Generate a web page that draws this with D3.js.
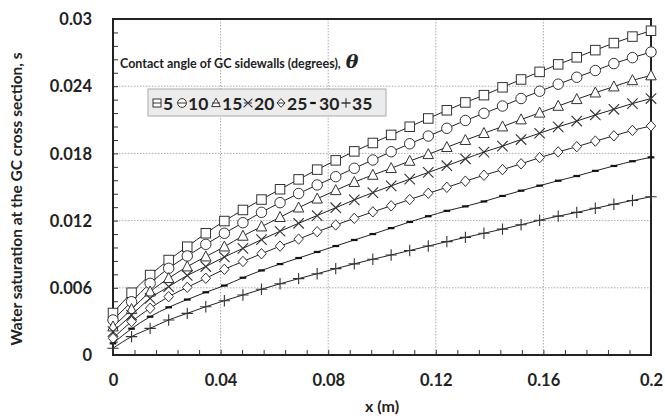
<!DOCTYPE html>
<html><head><meta charset="utf-8">
<script src="https://cdn.jsdelivr.net/npm/d3@7"></script>
<style>body{margin:0;background:#fff}svg{display:block}text{font-family:Lato,"Open Sans",sans-serif;font-weight:bold;fill:#222}</style>
</head><body><svg id="c" width="665" height="418"></svg>
<script>
const xValues = [0, 0.0069, 0.0138, 0.0207, 0.0276, 0.0345, 0.0414, 0.0483, 0.0552, 0.0621, 0.069, 0.0759, 0.0828, 0.0897, 0.0966, 0.1034, 0.1103, 0.1172, 0.1241, 0.131, 0.1379, 0.1448, 0.1517, 0.1586, 0.1655, 0.1724, 0.1793, 0.1862, 0.1931, 0.2];
const theta5  = [0.00375, 0.00556, 0.00714, 0.00848, 0.00967, 0.01087, 0.01196, 0.01295, 0.01388, 0.0148, 0.01568, 0.01655, 0.01738, 0.01818, 0.01893, 0.01965, 0.02038, 0.02112, 0.02185, 0.02255, 0.0232, 0.0239, 0.0246, 0.02528, 0.02595, 0.02658, 0.02722, 0.02785, 0.02843, 0.02895];
const theta10 = [0.00313, 0.00476, 0.0064, 0.00774, 0.00884, 0.00988, 0.01087, 0.01181, 0.01274, 0.0136, 0.01442, 0.01518, 0.01592, 0.01667, 0.01741, 0.01815, 0.01886, 0.01955, 0.02024, 0.02094, 0.02158, 0.02223, 0.0229, 0.02355, 0.02418, 0.0248, 0.0254, 0.02602, 0.02655, 0.02705];
const theta15 = [0.00253, 0.00408, 0.00565, 0.00685, 0.00789, 0.00878, 0.00967, 0.01063, 0.01146, 0.0123, 0.01315, 0.01395, 0.0147, 0.01543, 0.01607, 0.01667, 0.01732, 0.01792, 0.01855, 0.01918, 0.0198, 0.02039, 0.02102, 0.02162, 0.02223, 0.02283, 0.02342, 0.02396, 0.02452, 0.02495];
const theta20 = [0.00208, 0.00357, 0.00506, 0.0061, 0.0071, 0.0079, 0.00875, 0.00952, 0.0103, 0.01105, 0.01176, 0.01245, 0.01315, 0.01385, 0.0145, 0.0151, 0.0157, 0.0163, 0.0169, 0.01752, 0.01812, 0.01865, 0.01924, 0.0198, 0.02037, 0.02089, 0.02143, 0.02194, 0.02245, 0.0229];
const theta25 = [0.00149, 0.00298, 0.00417, 0.00521, 0.00604, 0.00685, 0.00765, 0.00835, 0.00904, 0.00972, 0.01035, 0.01101, 0.01161, 0.0122, 0.01278, 0.01332, 0.01388, 0.01444, 0.01497, 0.01552, 0.01605, 0.01655, 0.01707, 0.01762, 0.01813, 0.0186, 0.0191, 0.01957, 0.02005, 0.02045];
const theta30 = [0.00104, 0.00235, 0.00342, 0.00426, 0.00495, 0.0056, 0.0062, 0.0069, 0.00755, 0.00812, 0.00866, 0.0092, 0.00973, 0.01027, 0.0108, 0.01133, 0.01188, 0.01239, 0.01287, 0.01327, 0.01371, 0.0142, 0.01467, 0.01512, 0.01556, 0.01598, 0.01644, 0.01688, 0.0173, 0.01765];
const theta35 = [0.0006, 0.00164, 0.00238, 0.00313, 0.00372, 0.00431, 0.00485, 0.00536, 0.00587, 0.00636, 0.00682, 0.00726, 0.00771, 0.00814, 0.00855, 0.00893, 0.00933, 0.00973, 0.01012, 0.0105, 0.01087, 0.01124, 0.01163, 0.01203, 0.0124, 0.01273, 0.0131, 0.01346, 0.0138, 0.01413];
const seriesNames = ["5", "10", "15", "20", "25", "30", "35"];
const seriesMarkers = ["square", "circle", "triangle", "cross", "diamond", "dash", "plus"];
const xTicks = [0, 0.04, 0.08, 0.12, 0.16, 0.2];
const yTicks = [0, 0.006, 0.012, 0.018, 0.024, 0.03];
const xTickLabels = ["0", "0.04", "0.08", "0.12", "0.16", "0.2"];
const yTickLabels = ["0", "0.006", "0.012", "0.018", "0.024", "0.03"];

const allSeries = [theta5, theta10, theta15, theta20, theta25, theta30, theta35];
const svg = d3.select("#c");
const L = 113, R = 651, T = 19, B = 355;
const x = d3.scaleLinear().domain([0, 0.2]).range([L, R]);
const y = d3.scaleLinear().domain([0, 0.03]).range([B, T]);
const ink = "#333";

// grid
svg.append("g").selectAll("line").data(xTicks.slice(1, -1)).join("line")
  .attr("x1", d => x(d)).attr("x2", d => x(d)).attr("y1", T).attr("y2", B)
  .attr("stroke", "#aaa").attr("stroke-width", 1).attr("stroke-dasharray", "1.5,1.5");
svg.append("g").selectAll("line").data(yTicks.slice(1, -1)).join("line")
  .attr("y1", d => y(d)).attr("y2", d => y(d)).attr("x1", L).attr("x2", R)
  .attr("stroke", "#aaa").attr("stroke-width", 1).attr("stroke-dasharray", "1.5,1.5");

// axes with inward minor ticks
const xMinor = d3.range(0, 26).map(i => i * 0.008);
const yMinor = d3.range(0, 26).map(i => i * 0.0012);
svg.append("g").attr("transform", `translate(0,${B})`)
  .call(d3.axisBottom(x).tickValues(xMinor).tickSize(-5).tickFormat(""))
  .call(g => { g.select(".domain").remove(); g.selectAll("line").attr("stroke", ink); });
svg.append("g").attr("transform", `translate(${L},0)`)
  .call(d3.axisLeft(y).tickValues(yMinor).tickSize(-5).tickFormat(""))
  .call(g => { g.select(".domain").remove(); g.selectAll("line").attr("stroke", ink); });

// tick labels
svg.append("g").attr("transform", `translate(0,${B})`)
  .call(d3.axisBottom(x).tickValues(xTicks).tickSize(0).tickPadding(0).tickFormat((d, i) => xTickLabels[i]))
  .call(g => { g.select(".domain").remove(); g.selectAll("text").attr("dy", 0).attr("y", 31).attr("font-size", 16.5).attr("fill", "#222").attr("font-family", "Lato, sans-serif").attr("font-weight", "bold"); });
svg.append("g").attr("transform", `translate(${L},0)`)
  .call(d3.axisLeft(y).tickValues(yTicks).tickSize(0).tickPadding(0).tickFormat((d, i) => yTickLabels[i]))
  .call(g => { g.select(".domain").remove(); g.selectAll("text").attr("x", -21).attr("dy", "0.35em").attr("font-size", 16.5).attr("fill", "#222").attr("font-family", "Lato, sans-serif").attr("font-weight", "bold"); });

// frame
svg.append("rect").attr("x", L).attr("y", T).attr("width", R - L).attr("height", B - T)
  .attr("fill", "none").attr("stroke", "#222").attr("stroke-width", 2);

// axis titles
svg.append("text").attr("x", (L + R) / 2).attr("y", 412).attr("text-anchor", "middle").attr("font-size", 16).text("x (m)");
svg.append("text").attr("transform", `translate(22,${(T + B) / 2 + 12}) rotate(-90)`).attr("text-anchor", "middle")
  .attr("font-size", 15.5).text("Water saturation at the GC cross section, s");

// marker drawing
function marker(sel, type, s) {
  const g = sel;
  if (type === "square") g.append("rect").attr("x", -s * 0.5).attr("y", -s * 0.5).attr("width", s).attr("height", s).attr("fill", "#fff").attr("stroke", ink).attr("stroke-width", 1);
  else if (type === "circle") g.append("circle").attr("r", s * 0.55).attr("fill", "#fff").attr("stroke", ink).attr("stroke-width", 1);
  else if (type === "triangle") g.append("path").attr("d", `M0,${-s * 0.6}L${s * 0.55},${s * 0.45}L${-s * 0.55},${s * 0.45}Z`).attr("fill", "#fff").attr("stroke", ink).attr("stroke-width", 1);
  else if (type === "diamond") g.append("path").attr("d", `M0,${-s * 0.55}L${s * 0.5},0L0,${s * 0.55}L${-s * 0.5},0Z`).attr("fill", "#fff").attr("stroke", ink).attr("stroke-width", 1);
  else if (type === "cross") g.append("path").attr("d", `M${-s * 0.55},${-s * 0.55}L${s * 0.55},${s * 0.55}M${-s * 0.55},${s * 0.55}L${s * 0.55},${-s * 0.55}`).attr("stroke", ink).attr("stroke-width", 1.1).attr("fill", "none");
  else if (type === "plus") g.append("path").attr("d", `M${-s * 0.6},0L${s * 0.6},0M0,${-s * 0.6}L0,${s * 0.6}`).attr("stroke", ink).attr("stroke-width", 1.1).attr("fill", "none");
  else if (type === "dash") g.append("path").attr("d", `M${-s * 0.35},0L${s * 0.35},0`).attr("stroke", "#111").attr("stroke-width", 2.2).attr("fill", "none");
}

const line = d3.line().x((d, i) => x(xValues[i])).y(d => y(d)).curve(d3.curveMonotoneX);
allSeries.forEach((vals, k) => {
  svg.append("path").datum(vals).attr("d", line).attr("fill", "none").attr("stroke", "#222").attr("stroke-width", 1);
});
allSeries.forEach((vals, k) => {
  svg.append("g").selectAll("g").data(vals).join("g")
    .attr("transform", (d, i) => `translate(${x(xValues[i])},${y(d)})`)
    .each(function () { marker(d3.select(this), seriesMarkers[k], 9.5); });
});

// legend
svg.append("text").attr("x", 120).attr("y", 68).attr("font-size", 12.5).text("Contact angle of GC sidewalls (degrees), ")
  .append("tspan").attr("font-family", "'DejaVu Serif', serif").attr("font-style", "italic").attr("font-size", 19).attr("dx", 2).text("θ");
svg.append("rect").attr("x", 148).attr("y", 89).attr("width", 238).attr("height", 27).attr("fill", "#ececec").attr("stroke", "#aaa").attr("stroke-width", 1);
const legendX = [157, 182, 216, 248, 281, 313, 346];
seriesNames.forEach((n, k) => {
  const g = svg.append("g").attr("transform", `translate(${legendX[k]},103)`);
  marker(g, seriesMarkers[k], 8);
  if (seriesMarkers[k] !== "dash") g.append("line").attr("x1", -4).attr("x2", 4).attr("stroke", ink).attr("stroke-width", 1);
  g.append("text").attr("x", 6).attr("y", 6.5).attr("font-size", 17.5).text(n);
});
</script></body></html>
